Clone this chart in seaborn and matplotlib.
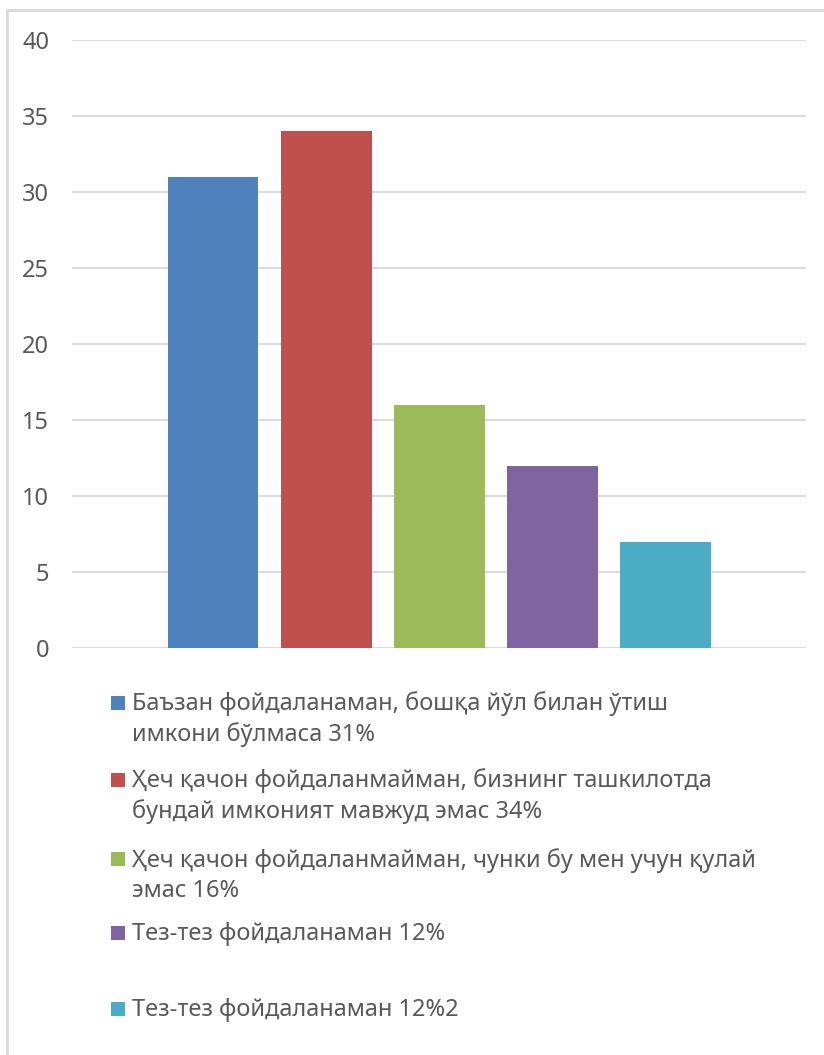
import matplotlib
matplotlib.use("Agg")
import matplotlib.pyplot as plt
from matplotlib.lines import Line2D
from matplotlib.patches import Rectangle
import pandas as pd
import seaborn as sns

# survey answers (one series per answer)
labels = [
    "Баъзан фойдаланаман, бошқа йўл билан ўтиш\nимкони бўлмаса 31%",
    "Ҳеч қачон фойдаланмайман, бизнинг ташкилотда\nбундай имконият мавжуд эмас 34%",
    "Ҳеч қачон фойдаланмайман, чунки бу мен учун қулай\nэмас 16%",
    "Тез-тез фойдаланаман 12%",
    "Тез-тез фойдаланаман 12%2",
]
values = [31, 34, 16, 12, 7]
colors = ["#4F81BD", "#C0504D", "#9BBB59", "#8064A2", "#4BACC6"]
yticks = [0, 5, 10, 15, 20, 25, 30, 35, 40]

W, H = 824, 1055
FS = 17
LINE = 31  # px between legend text lines

sns.set_theme(style="white")
plt.rcParams["font.family"] = ["Noto Sans", "DejaVu Sans"]

df = pd.DataFrame({"answer": labels, "value": values})

fig = plt.figure(figsize=(W / 100, H / 100), dpi=100)
ax = fig.add_axes([72 / W, 1 - 648 / H, (806 - 72) / W, (648 - 40) / H])

sns.barplot(data=df, x="answer", y="value", hue="answer", palette=colors,
            width=0.8, legend=False, ax=ax, saturation=1, linewidth=0)

ax.set_xlim(-1.248, 5.24)
ax.set_ylim(0, 40)
ax.set_yticks(yticks)
ax.set_xticks([])
ax.set_xlabel("")
ax.set_ylabel("")
ax.tick_params(axis="y", length=0, pad=16.5, labelsize=FS, labelcolor="#595959")
for s in ax.spines.values():
    s.set_visible(False)
ax.yaxis.grid(True, color="#D9D9D9", linewidth=1.4)
ax.set_axisbelow(True)

# legend drawn by hand so the entries keep Excel's spacing
baselines = [710, 787, 866, 940, 1016]
for lab, col, yb in zip(labels, colors, baselines):
    fig.patches.append(Rectangle((111 / W, 1 - yb / H), 14 / W, 14 / H,
                                 transform=fig.transFigure, facecolor=col,
                                 edgecolor="none"))
    nlines = lab.count("\n") + 1
    # va='baseline' sits on the last line's baseline
    last = yb + LINE * (nlines - 1)
    fig.text(132 / W, 1 - last / H, lab, fontsize=FS, color="#595959",
             va="baseline", ha="left", linespacing=1.33,
             transform=fig.transFigure)

# chart area border (only left and top visible)
fig.lines.append(Line2D([7 / W, 7 / W], [0, 1 - 10 / H], transform=fig.transFigure,
                        color="#D9D9D9", linewidth=2))
fig.lines.append(Line2D([7 / W, 1], [1 - 10 / H, 1 - 10 / H], transform=fig.transFigure,
                        color="#D9D9D9", linewidth=2))

fig.savefig("out.png", dpi=100)
